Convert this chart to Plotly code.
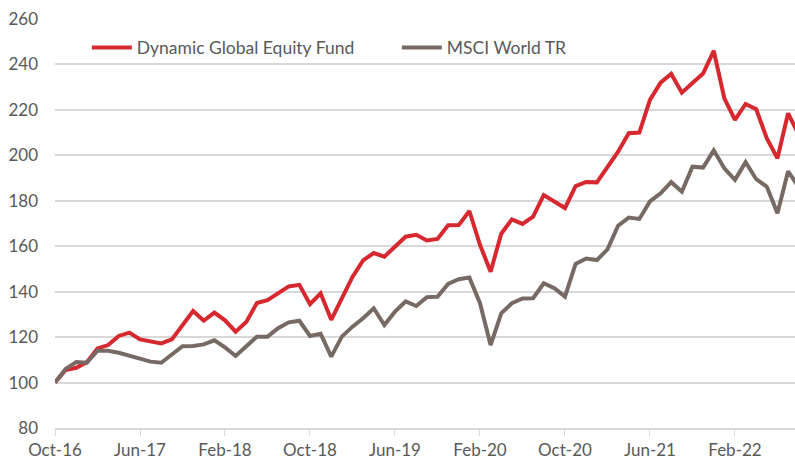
import pandas as pd
import plotly.graph_objects as go

months = list(pd.date_range("2016-10-01", "2022-08-01", freq="MS").strftime("%b-%y"))

fund = [100, 105.5, 106.5, 109, 115, 116.5, 120.5, 122, 119, 118.3, 117.2, 119,
        125.5, 131.5, 127.2, 130.8, 127.4, 122.4, 126.6, 135, 136.3, 139.3, 142.3, 143,
        134.5, 139.3, 127.6, 137, 146.5, 153.8, 157, 155.4, 159.7, 164.2, 165, 162.5,
        163.2, 169.2, 169.3, 175.5, 160.6, 148.8, 165.5, 171.8, 169.8, 173, 182.5, 179.8,
        176.8, 186.5, 188.3, 188.1, 195, 201.6, 209.7, 210, 224.4, 232, 235.9, 227.6,
        231.8, 236, 246, 225.1, 215.6, 222.6, 220.3, 207.4, 198.7, 218.5, 209]

msci = [100, 106, 109, 108.7, 114, 114, 113.1, 111.9, 110.5, 109.2, 108.7, 112.1,
        116, 116.1, 116.8, 118.6, 115.5, 111.7, 115.8, 120.2, 120.2, 123.9, 126.5, 127.2,
        120.5, 121.5, 111.4, 120.2, 124.6, 128.3, 132.7, 125.3, 131.2, 135.7, 133.7, 137.6,
        137.8, 143.4, 145.5, 146.2, 134.9, 116.5, 130.5, 134.9, 137, 137.1, 143.7, 141.5,
        137.8, 152.2, 154.6, 153.9, 158.6, 169, 172.6, 172, 179.7, 183.3, 188.2, 184,
        195, 194.6, 202.2, 194.3, 189.2, 197, 189.5, 186.2, 174.5, 193, 186]

tick_labels = ["Oct-16", "Jun-17", "Feb-18", "Oct-18", "Jun-19", "Feb-20", "Oct-20", "Jun-21", "Feb-22"]
y_ticks = [80, 100, 120, 140, 160, 180, 200, 220, 240, 260]

n = min(len(months), len(fund), len(msci))
months, fund, msci = months[:n], fund[:n], msci[:n]

fig = go.Figure()
fig.add_trace(go.Scatter(x=months, y=fund, mode="lines", name="Dynamic Global Equity Fund",
                         line=dict(color="#d7282f", width=4)))
fig.add_trace(go.Scatter(x=months, y=msci, mode="lines", name="MSCI World TR",
                         line=dict(color="#776a64", width=4)))

font_color = "#595959"
fig.update_layout(
    width=795, height=460,
    margin=dict(l=55, r=0, t=19, b=32, autoexpand=False),
    paper_bgcolor="white", plot_bgcolor="white",
    font=dict(family="Lato, sans-serif", size=17, color=font_color),
    showlegend=True,
    legend=dict(orientation="h", x=0.043, y=0.93, xanchor="left", yanchor="middle",
                bgcolor="rgba(0,0,0,0)", font=dict(size=17.5, color=font_color),
                entrywidth=255, entrywidthmode="pixels", itemwidth=40),
    hovermode=False,
)
fig.update_xaxes(
    type="category", range=[0, 69.65], automargin=False,
    tickmode="array", tickvals=tick_labels, ticktext=tick_labels,
    ticks="outside", ticklen=6, tickcolor="#d9d9d9", tickwidth=1,
    showline=True, linecolor="#d9d9d9", linewidth=1.5,
    showgrid=False, tickfont=dict(size=17, color=font_color),
)
fig.update_yaxes(
    range=[80, 260], tickvals=y_ticks, automargin=False,
    showgrid=True, gridcolor="#d9d9d9", gridwidth=1.5,
    zeroline=False, showline=False, ticks="", ticklabelstandoff=16,
    tickfont=dict(size=17, color=font_color),
)

fig.write_html("out.html", config={"displayModeBar": False},
               post_script="document.body.style.margin='0';document.body.style.overflow='hidden';")
